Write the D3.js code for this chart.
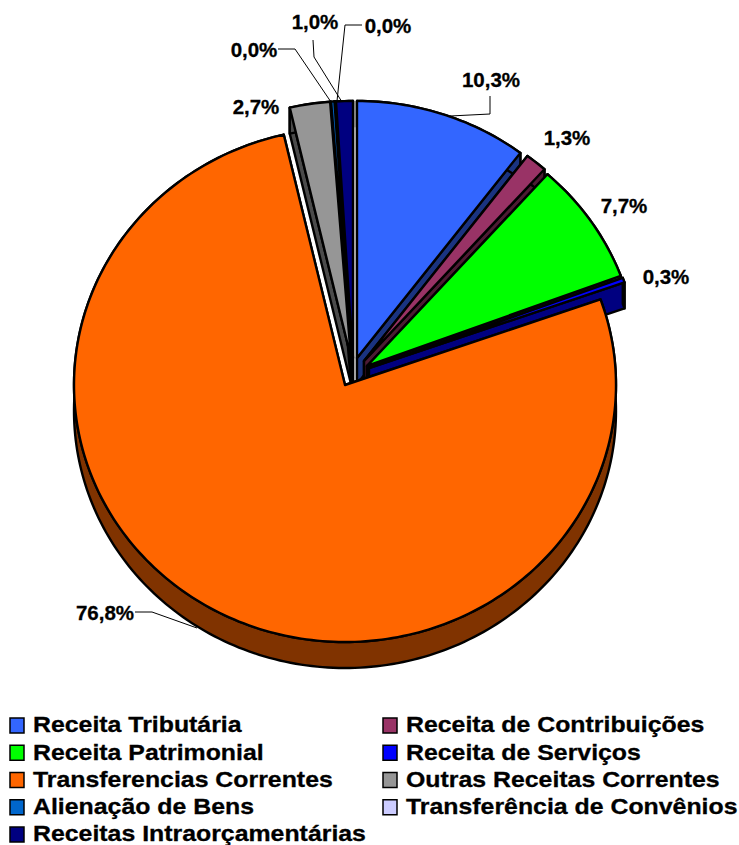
<!DOCTYPE html>
<html>
<head>
<meta charset="utf-8">
<script src="https://cdn.jsdelivr.net/npm/d3@7"></script>
<style>
  body { margin: 0; background: #fff; }
  text { font-family: "Liberation Sans", Arial, sans-serif; font-weight: bold; fill: #000; stroke: #000; stroke-width: 0.3px; }
</style>
</head>
<body>
<svg></svg>
<script>
var categories = ["Receita Tributária", "Receita de Contribuições", "Receita Patrimonial", "Receita de Serviços",
                  "Transferencias Correntes", "Outras Receitas Correntes", "Alienação de Bens",
                  "Transferência de Convênios", "Receitas Intraorçamentárias"];
// slice sizes as read off the picture, so not always the printed label
var values = [10.3, 1.3, 7.7, 0.3, 76.8, 2.4, 0.2, 0.03, 1.0];
var valueLabels = ["10,3%", "1,3%", "7,7%", "0,3%", "76,8%", "2,7%", "0,0%", "0,0%", "1,0%"];
var colors = ["#3366FF", "#993366", "#00FF00", "#0000FF", "#FF6600", "#969696", "#0066CC", "#CCCCFF", "#000080"];

var width = 739;
var height = 845;

// pie is a tilted disc: ellipse + wall going down
var cx = 345, cy = 385;
var rx = 271, ry = 257;
var depth = 26;

// how far each slice is pulled out of the pie, in pixels
var sliceShift = [[12, -27], [19, -24], [22, -19], [24, -17], [0, 0], [6, -27], [7, -27], [7, -27], [8, -27]];

// label centres and leader polylines, slice by slice
var labelLayout = [
  {x: 491, y: 79, leader: [[490, 96], [490, 114], [450, 116]]},
  {x: 567, y: 137},
  {x: 624, y: 205},
  {x: 666, y: 276},
  {x: 105, y: 612, leader: [[135, 612], [152, 612], [197, 628]]},
  {x: 256, y: 106},
  {x: 254, y: 49, leader: [[278, 49], [295, 49], [331, 102]]},
  {x: 388, y: 25, leader: [[362, 25], [345, 25], [337, 101]]},
  {x: 315, y: 21, leader: [[313, 40], [314, 57], [342, 102]]}
];

var svg = d3.select("svg").attr("width", width).attr("height", height);

var arcs = d3.pie().sort(null).value(d => d)(values);

var line = d3.line();

function center(d) {
  return [cx + sliceShift[d.index][0], cy + sliceShift[d.index][1]];
}

function rim(d, a, dy) {
  var c = center(d);
  return [c[0] + rx * Math.sin(a), c[1] - ry * Math.cos(a) + dy];
}

function rimPoints(d, dy) {
  var n = Math.max(2, Math.ceil((d.endAngle - d.startAngle) / 0.02));
  return d3.range(n + 1).map(i => rim(d, d.startAngle + (d.endAngle - d.startAngle) * i / n, dy));
}

function topFace(d) {
  return line([center(d)].concat(rimPoints(d, 0))) + "Z";
}

function edgeWall(d, a) {
  var c = center(d), p = rim(d, a, 0);
  return line([c, p, [p[0], p[1] + depth], [c[0], c[1] + depth]]) + "Z";
}

function outerWall(d) {
  var top = rimPoints(d, 0), bottom = rimPoints(d, depth).reverse();
  return line(top.concat(bottom)) + "Z";
}

// back to front, the big orange slice goes last so it covers the walls behind it
var drawOrder = [8, 7, 6, 5, 0, 1, 2, 3, 4];

var slices = svg.append("g").classed("pie", true)
  .selectAll("g")
  .data(drawOrder.map(i => arcs[i]))
  .enter()
  .append("g");

slices.each(function(d) {
  var g = d3.select(this);
  var c = d3.rgb(colors[d.index]);
  var wall = d3.rgb(c.r / 2, c.g / 2, c.b / 2).formatHex();
  [edgeWall(d, d.startAngle), edgeWall(d, d.endAngle), outerWall(d)].forEach(p => {
    g.append("path")
      .attr("d", p)
      .attr("fill", wall)
      .attr("stroke", "#000")
      .attr("stroke-width", 2.4)
      .attr("stroke-linejoin", "round");
  });
  g.append("path")
    .attr("d", topFace(d))
    .attr("fill", colors[d.index])
    .attr("stroke", "#000")
    .attr("stroke-width", 2.4)
    .attr("stroke-linejoin", "round");
});

// leaders and value labels
var labels = svg.append("g").classed("labels", true);

labels.selectAll("path")
  .data(labelLayout.filter(d => d.leader))
  .enter()
  .append("path")
    .attr("d", d => line(d.leader))
    .attr("fill", "none")
    .attr("stroke", "#000")
    .attr("stroke-width", 1);

labels.selectAll("text")
  .data(valueLabels)
  .enter()
  .append("text")
    .attr("x", (d, i) => labelLayout[i].x)
    .attr("y", (d, i) => labelLayout[i].y)
    .attr("text-anchor", "middle")
    .attr("dominant-baseline", "central")
    .attr("font-size", 20.5)
    .text(d => d);

// legend, two columns filled row by row
var legendX = d3.scaleOrdinal().domain([0, 1]).range([10, 383]);
var legendY = d3.scalePoint().domain(d3.range(5)).range([725, 834]);

var legend = svg.append("g").classed("legend", true)
  .selectAll("g")
  .data(categories)
  .enter()
  .append("g")
    .attr("transform", (d, i) => "translate(" + legendX(i % 2) + "," + legendY(Math.floor(i / 2)) + ")");

legend.append("rect")
  .attr("x", 0)
  .attr("y", -7)
  .attr("width", 14)
  .attr("height", 15)
  .attr("fill", (d, i) => colors[i])
  .attr("stroke", "#000")
  .attr("stroke-width", 1.5);

// legend text in the original is wider than plain Arial bold
legend.append("text")
  .attr("transform", "translate(23,0) scale(1.13,1)")
  .attr("dominant-baseline", "central")
  .attr("font-size", 22)
  .text(d => d);
</script>
</body>
</html>
